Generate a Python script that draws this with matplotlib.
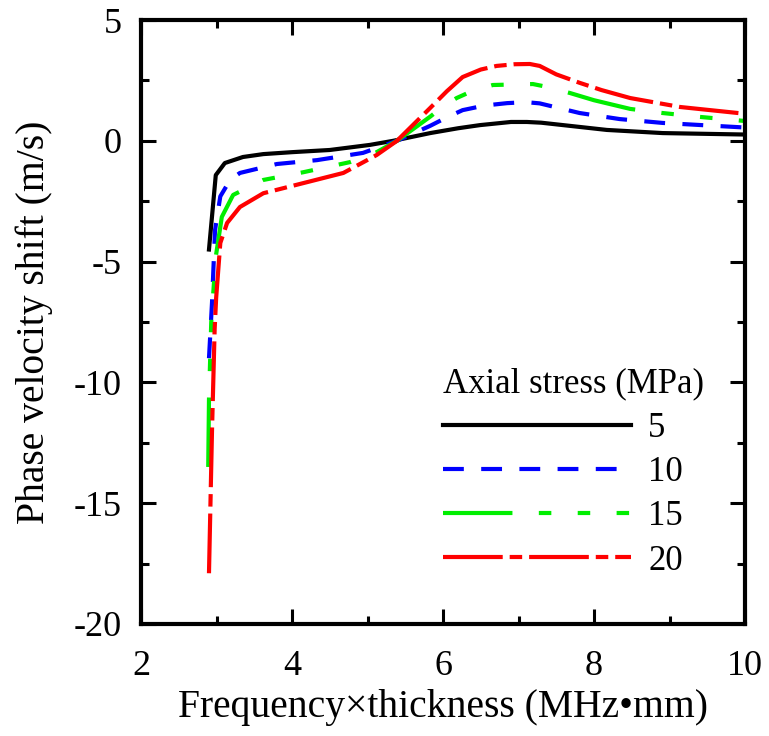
import matplotlib
matplotlib.use("Agg")
import matplotlib.pyplot as plt
from matplotlib.ticker import MultipleLocator

plt.rcParams["font.family"] = ["Liberation Serif", "DejaVu Serif"]
plt.rcParams["axes.unicode_minus"] = False
plt.rcParams["lines.scale_dashes"] = False

# Axial stress 5 MPa
black_x = [2.90, 2.99, 3.11, 3.35, 3.62, 4.0, 4.5, 5.03, 5.34, 5.83, 6.2, 6.49, 6.9, 7.11, 7.3, 7.59, 8.17, 8.91, 10.0]
black_y = [-4.5, -1.42, -0.92, -0.67, -0.55, -0.47, -0.38, -0.17, 0.0, 0.32, 0.52, 0.65, 0.78, 0.78, 0.75, 0.65, 0.45, 0.32, 0.26]

# 10 MPa
blue_x = [2.90, 2.94, 2.98, 3.05, 3.18, 3.31, 3.8, 4.33, 4.94, 5.39, 5.83, 6.05, 6.26, 6.55, 6.85, 7.1, 7.28, 7.81, 8.34, 8.91, 10.0]
blue_y = [-9.0, -6.7, -3.7, -2.3, -1.62, -1.33, -0.96, -0.8, -0.5, 0.0, 0.62, 0.97, 1.27, 1.46, 1.56, 1.6, 1.55, 1.15, 0.9, 0.74, 0.55]

# 15 MPa
green_x = [2.89, 2.90, 2.93, 2.99, 3.07, 3.22, 3.62, 4.15, 4.77, 5.12, 5.39, 5.83, 6.0, 6.18, 6.4, 6.66, 7.19, 7.35, 7.68, 8.0, 8.48, 8.91, 9.40, 10.0]
green_y = [-13.5, -10.7, -7.5, -4.8, -3.15, -2.24, -1.62, -1.3, -0.88, -0.47, 0.0, 1.0, 1.42, 1.77, 2.08, 2.31, 2.35, 2.25, 1.98, 1.68, 1.32, 1.15, 0.99, 0.82]

# 20 MPa
red_x = [2.90, 2.94, 2.975, 2.995, 3.05, 3.14, 3.31, 3.62, 4.15, 4.68, 5.12, 5.39, 5.83, 6.05, 6.26, 6.5, 6.71, 6.95, 7.15, 7.28, 7.5, 7.81, 8.1, 8.48, 9.14, 10.0]
red_y = [-17.9, -12.0, -7.8, -6.5, -4.23, -3.4, -2.74, -2.17, -1.75, -1.33, -0.59, 0.0, 1.36, 2.05, 2.64, 2.95, 3.1, 3.17, 3.18, 3.1, 2.75, 2.4, 2.1, 1.77, 1.4, 1.12]

labels = ["5", "10", "15", "20"]

TICK_FS = 26
LABEL_FS = 28.5
LEG_FS = 25

fig = plt.figure(figsize=(7.69, 7.36), dpi=100)
ax = fig.add_axes([0.1834, 0.1522, 0.7854, 0.8206])

lw = 3
ax.plot(black_x, black_y, color="black", lw=lw, label=labels[0])
ax.plot(blue_x, blue_y, color="#0000ff", lw=lw, dashes=(15, 12.5), label=labels[1])
ax.plot(green_x, green_y, color="#00ee00", lw=lw,
        dashes=(50, 19, 9, 19, 9, 19, 9, 19), label=labels[2])
ax.plot(red_x, red_y, color="#ff0000", lw=lw, dashes=(43, 5, 9, 5), label=labels[3])

ax.set_xlim(2, 10)
ax.set_ylim(-20, 5)
ax.xaxis.set_major_locator(MultipleLocator(2))
ax.xaxis.set_minor_locator(MultipleLocator(1))
ax.yaxis.set_major_locator(MultipleLocator(5))
ax.yaxis.set_minor_locator(MultipleLocator(2.5))
ax.tick_params(which="both", direction="in", top=True, right=True, labelsize=TICK_FS, width=2.2)
ax.tick_params(which="major", length=11, pad=14)
ax.tick_params(which="minor", length=5.5)
ax.tick_params(axis="x", which="major", pad=19)
for s in ax.spines.values():
    s.set_linewidth(3)

ax.set_xlabel("Frequency\u00d7thickness (MHz\u2022mm)", fontsize=LABEL_FS, labelpad=4)
ax.set_ylabel("Phase velocity shift (m/s)", fontsize=LABEL_FS, labelpad=15)

leg = ax.legend(title="Axial stress (MPa)", loc="lower left", bbox_to_anchor=(0.472, 0.048),
                frameon=False, fontsize=LEG_FS, title_fontsize=LEG_FS, handlelength=5.4,
                handletextpad=0.5, labelspacing=0.325, borderpad=0, alignment="left")

fig.savefig("out.png", dpi=100)
